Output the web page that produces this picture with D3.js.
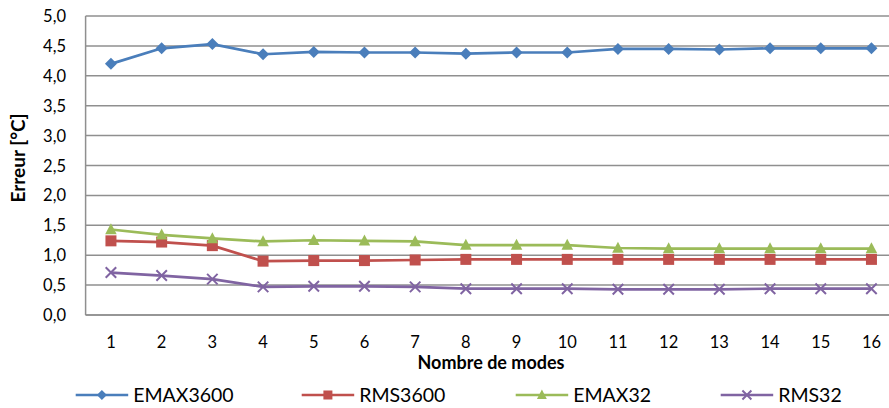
<!DOCTYPE html>
<html>
<head>
<meta charset="utf-8">
<script src="https://cdn.jsdelivr.net/npm/d3@7"></script>
<style>
  body { margin: 0; background: #fff; }
  text { font-family: Lato, "Open Sans", sans-serif; fill: #000; }
</style>
</head>
<body>
<svg id="chart" width="889" height="408"></svg>
<script>
// data
var modes = [1, 2, 3, 4, 5, 6, 7, 8, 9, 10, 11, 12, 13, 14, 15, 16];
var emax3600 = [4.20, 4.46, 4.53, 4.36, 4.40, 4.39, 4.39, 4.37, 4.39, 4.39, 4.45, 4.45, 4.44, 4.46, 4.46, 4.46];
var rms3600 = [1.24, 1.22, 1.16, 0.90, 0.91, 0.91, 0.92, 0.93, 0.93, 0.93, 0.93, 0.93, 0.93, 0.93, 0.93, 0.93];
var emax32 = [1.43, 1.34, 1.28, 1.23, 1.25, 1.24, 1.23, 1.17, 1.17, 1.17, 1.12, 1.11, 1.11, 1.11, 1.11, 1.11];
var rms32 = [0.71, 0.66, 0.60, 0.47, 0.48, 0.48, 0.47, 0.44, 0.44, 0.44, 0.43, 0.43, 0.43, 0.44, 0.44, 0.44];
var yTicks = [0, 0.5, 1, 1.5, 2, 2.5, 3, 3.5, 4, 4.5, 5];
var seriesNames = ["EMAX3600", "RMS3600", "EMAX32", "RMS32"];

var series = [
    {name: seriesNames[0], values: emax3600, color: "#4a7ebb", marker: "diamond"},
    {name: seriesNames[1], values: rms3600, color: "#c0504d", marker: "square"},
    {name: seriesNames[2], values: emax32, color: "#9bbb59", marker: "triangle"},
    {name: seriesNames[3], values: rms32, color: "#8064a2", marker: "cross"}
];

var svg = d3.select("#chart");

var x = d3.scalePoint()
    .domain(modes)
    .range([85.6, 896.8])
    .padding(0.5);

var y = d3.scaleLinear()
    .domain([0, 5])
    .range([315, 16]);

//gridlines
svg.append("g")
    .selectAll("line")
    .data(yTicks).enter()
    .append("line")
    .attr("x1", 85.6)
    .attr("x2", 896.8)
    .attr("y1", d => y(d))
    .attr("y2", d => y(d))
    .attr("stroke", "#8f8f8f")
    .attr("stroke-width", 1.5);

//left axis line
svg.append("line")
    .attr("x1", 85.6).attr("x2", 85.6)
    .attr("y1", y(5)).attr("y2", y(0))
    .attr("stroke", "#8f8f8f")
    .attr("stroke-width", 1.5);

//y tick labels
svg.append("g")
    .selectAll("text")
    .data(yTicks).enter()
    .append("text")
    .attr("x", 66)
    .attr("y", d => y(d) + 6)
    .attr("text-anchor", "end")
    .style("font-size", "16.5px")
    .text(d => d3.format(".1f")(d).replace(".", ","));

//x tick labels
svg.append("g")
    .selectAll("text")
    .data(modes).enter()
    .append("text")
    .attr("x", d => x(d))
    .attr("y", 348)
    .attr("text-anchor", "middle")
    .style("font-size", "16.5px")
    .text(d => d);

//axis titles
svg.append("text")
    .attr("x", 491)
    .attr("y", 369)
    .attr("text-anchor", "middle")
    .style("font-size", "18px")
    .style("font-weight", "bold")
    .text("Nombre de modes");

svg.append("text")
    .attr("transform", "translate(25,158) rotate(-90)")
    .attr("text-anchor", "middle")
    .style("font-size", "19px")
    .style("font-weight", "bold")
    .text("Erreur [°C]");

//marker shapes
function drawMarker(g, type, color, size) {
    var h = size / 2;
    if (type == "diamond") {
        g.append("path")
            .attr("d", "M0," + (-h) + "L" + h + ",0L0," + h + "L" + (-h) + ",0Z")
            .attr("fill", color);
    } else if (type == "square") {
        g.append("rect")
            .attr("x", -h).attr("y", -h)
            .attr("width", size).attr("height", size)
            .attr("fill", color);
    } else if (type == "triangle") {
        g.append("path")
            .attr("d", "M0," + (-size * 0.6) + "L" + (size * 0.55) + "," + (size * 0.45) + "L" + (-size * 0.55) + "," + (size * 0.45) + "Z")
            .attr("fill", color);
    } else {
        g.append("path")
            .attr("d", "M" + (-h) + "," + (-h) + "L" + h + "," + h + "M" + h + "," + (-h) + "L" + (-h) + "," + h)
            .attr("stroke", color)
            .attr("stroke-width", 2)
            .attr("fill", "none");
    }
}

var line = d3.line()
    .x((d, i) => x(modes[i]))
    .y(d => y(d));

series.forEach(s => {
    svg.append("path")
        .datum(s.values)
        .attr("d", line)
        .attr("fill", "none")
        .attr("stroke", s.color)
        .attr("stroke-width", 2.7)
        .attr("stroke-linejoin", "round");

    s.values.forEach((v, i) => {
        var g = svg.append("g")
            .attr("transform", "translate(" + x(modes[i]) + "," + y(v) + ")");
        var size = s.marker == "diamond" ? 12 : (s.marker == "square" ? 11 : 10.5);
        drawMarker(g, s.marker, s.color, size);
    });
});

//bottom axis line drawn over
svg.append("line")
    .attr("x1", 85.6).attr("x2", 896.8)
    .attr("y1", y(0)).attr("y2", y(0))
    .attr("stroke", "#8f8f8f")
    .attr("stroke-width", 1.5);

//legend
var legendX = [75.7, 301.7, 515.7, 720.7];
series.forEach((s, i) => {
    var lg = svg.append("g")
        .attr("transform", "translate(" + legendX[i] + ",395)");
    lg.append("line")
        .attr("x1", 0).attr("x2", 52.5)
        .attr("y1", 0).attr("y2", 0)
        .attr("stroke", s.color)
        .attr("stroke-width", 2.7);
    var mg = lg.append("g").attr("transform", "translate(26.2,0)");
    drawMarker(mg, s.marker, s.color, s.marker == "diamond" ? 10 : 9);
    lg.append("text")
        .attr("x", 57.5)
        .attr("y", 7)
        .style("font-size", "19.5px")
        .text(s.name);
});
</script>
</body>
</html>
